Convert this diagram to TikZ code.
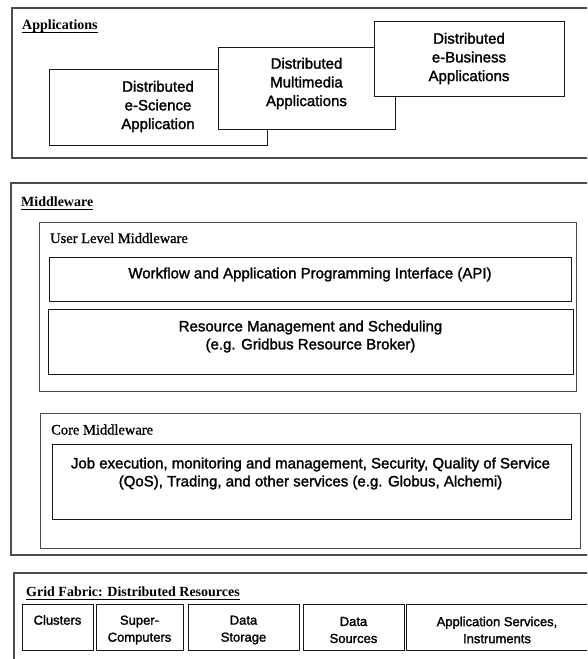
\documentclass[tikz,border=0pt]{standalone}
\usepackage{fontspec}
\setmainfont{Liberation Serif}
\setsansfont{Liberation Sans}
\newfontfamily\heavysans[FakeBold=1.6]{Liberation Sans}
\newfontfamily\heavyserif[FakeBold=1.0]{Liberation Serif}
\newcommand\myul[1]{\setbox0\hbox{#1}\rlap{\rule[-3.3pt]{\wd0}{0.8pt}}\box0}
\begin{document}
\begin{tikzpicture}[x=1pt,y=-1pt,
  outerbox/.style={draw=black!70, line width=1.3pt, inner sep=0pt, outer sep=0pt, anchor=north west},
  box/.style={draw=black!90, line width=0.9pt, fill=white, inner sep=0pt, outer sep=0pt, anchor=north west},
  apptext/.style={font=\heavysans\fontsize{15}{18.7}\selectfont, align=center, inner sep=0pt},
  midtext/.style={font=\heavysans\fontsize{15}{18}\selectfont, align=center, inner sep=0pt},
  restext/.style={font=\heavysans\fontsize{13}{17}\selectfont, align=center, inner sep=0pt},
  head/.style={font=\rmfamily\bfseries\fontsize{14}{16}\selectfont, anchor=base west, inner sep=0pt},
  subhead/.style={font=\heavyserif\fontsize{14.5}{16}\selectfont, anchor=base west, inner sep=0pt}]

\path[use as bounding box, clip] (0,0) rectangle (587,659);
\fill[white] (0,0) rectangle (587,659);

% ---------- Applications ----------
\node[outerbox, minimum width=580pt, minimum height=150pt] (apps) at (12,8) {};
\node[head] (appshead) at (22,29.5) {\myul{Applications}};
\node[box, minimum width=218pt, minimum height=76pt] (sci) at (49,69) {};
\node[box, minimum width=177pt, minimum height=82pt] (mm) at (218,47) {};
\node[box, minimum width=190pt, minimum height=75pt] (bus) at (374,21) {};
\node[apptext] (scit) at (158,106.5) {Distributed\\e-Science\\Application};
\node[apptext] (mmt) at (306.5,83.5) {Distributed\\Multimedia\\Applications};
\node[apptext] (bust) at (469,58.5) {Distributed\\e-Business\\Applications};

% ---------- Middleware ----------
\node[outerbox, minimum width=580pt, minimum height=372pt] (mw) at (11,183) {};
\node[head] (mwhead) at (21,206) {\myul{Middleware}};
\node[outerbox, line width=1pt, minimum width=537pt, minimum height=169pt] (user) at (39,222) {};
\node[subhead] (userhead) at (50,243) {User Level Middleware};
\node[box, minimum width=522pt, minimum height=44pt] (api) at (49,257) {};
\node[midtext] (apit) at (310,274.5) {Workflow and Application Programming Interface (API)};
\node[box, minimum width=525pt, minimum height=65pt] (rms) at (48,309) {};
\node[midtext] (rmst) at (310.5,336.5) {Resource Management and Scheduling\\(e.g. Gridbus Resource Broker)};
\node[outerbox, line width=1pt, minimum width=540pt, minimum height=135pt] (core) at (40,413) {};
\node[subhead] (corehead) at (51,434.5) {Core Middleware};
\node[box, minimum width=519pt, minimum height=75pt] (job) at (52,444) {};
\node[midtext] (jobt) at (310.5,473.5) {Job execution, monitoring and management, Security, Quality of Service\\(QoS), Trading, and other services (e.g. Globus, Alchemi)};

% ---------- Grid Fabric ----------
\node[outerbox, minimum width=580pt, minimum height=100pt] (grid) at (14,573) {};
\node[head] (gridhead) at (26,596) {\myul{Grid Fabric: Distributed Resources}};
\node[box, minimum width=71pt, minimum height=46pt] (clu) at (22,604) {};
\node[box, minimum width=87pt, minimum height=46pt] (sup) at (96,604) {};
\node[box, minimum width=111pt, minimum height=46pt] (sto) at (188,604) {};
\node[box, minimum width=101pt, minimum height=46pt] (src) at (303,604) {};
\node[box, minimum width=182pt, minimum height=46pt] (svc) at (406,604) {};
\node[restext] (clut) at (57.5,620) {Clusters};
\node[restext] (supt) at (139.5,630) {Super-\\Computers};
\node[restext] (stot) at (243.5,630) {Data\\Storage};
\node[restext] (srct) at (353.5,630) {Data\\Sources};
\node[restext] (svct) at (497,630) {Application Services,\\Instruments};
\end{tikzpicture}
\end{document}
